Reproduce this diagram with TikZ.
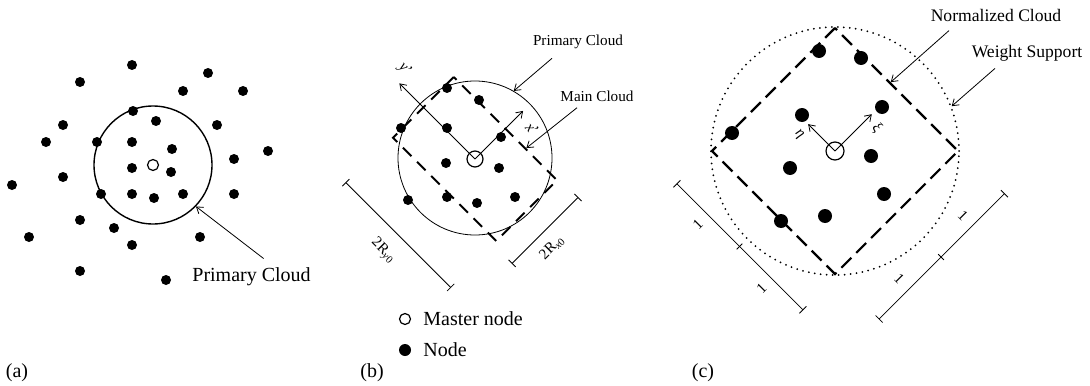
\documentclass[tikz,border=0pt]{standalone}
\usepackage{fontspec}
\setmainfont{Liberation Serif}
\usetikzlibrary{arrows.meta, positioning, calc}

\begin{document}
\begin{tikzpicture}[
    x=0.5pt, y=0.5pt,
    dot/.style={circle, fill, inner sep=0pt, minimum size=5pt},
    bigdot/.style={dot, minimum size=7pt},
    master/.style={circle, draw, line width=0.6pt, inner sep=0pt, minimum size=5.5pt},
    cloud/.style={circle, draw, inner sep=0pt},
    cloudbox/.style={draw, line width=1pt, dash pattern=on 6pt off 4pt, inner sep=0pt},
    arr/.style={-{Straight Barb[length=3pt, width=4pt]}, thin},
    dim/.style={{Bar[width=5pt]}-{Bar[width=5pt]}, thin},
    lblb/.style={inner sep=1pt, font=\fontsize{7.6}{9}\selectfont},
    lblc/.style={inner sep=1pt, font=\fontsize{8.8}{10}\selectfont},
    small/.style={inner sep=0.5pt, font=\fontsize{7.5}{9}\selectfont}
  ]
    \useasboundingbox (0,0) rectangle (1090,-385);

    % (a) scattered nodes and the primary cloud
    \foreach \x/\y [count=\i] in {132/65, 80/82, 208/73, 183/91, 243/91, 133/111,
        156/121, 63/125, 217/125, 46/142, 97/142, 132/142, 172/149, 268/151,
        234/159, 132/168, 171/172, 63/177, 12/185, 101/194, 132/194, 154/198,
        183/194, 234/194, 80/220, 114/228, 29/237, 200/237, 132/245, 80/271, 166/280}
      \node[dot] (a\i) at (\x,-\y) {};
    \node[master] (mA) at (153,-165) {};
    \node[cloud, line width=0.7pt, minimum size=59pt] (pcA) at (153,-165) {};
    \node[anchor=west, inner sep=0pt] (ptxtA) at (192,-277) {Primary Cloud};
    \draw[arr] ([xshift=6pt, yshift=4.5pt]ptxtA.north) -- (pcA.-44);
    \node (labA) at (17,-373) {(a)};

    % (b) main cloud in the rotated frame
    \node[cloud, minimum size=77pt] (pcB) at (475,-158) {};
    \node[cloudbox, minimum width=43pt, minimum height=73pt, rotate=45] (mainB) at (475,-159) {};
    \foreach \x/\y [count=\i] in {447/88, 479/100, 401/128, 447/128, 501/137,
        446/163, 499/168, 408/200, 447/197, 477/203, 515/197}
      \node[dot] (b\i) at (\x,-\y) {};
    \node[master, minimum size=8pt] (mB) at (475,-159) {};
    \begin{scope}[shift={(475,-159)}, rotate=45]
      \coordinate (xB) at (68,0);
      \coordinate (yB) at (0,107);
      \draw[arr] (mB.center) -- (xB);
      \draw[arr] (mB.center) -- (yB);
      \node[small, rotate=-45] (xlB) at (62,-19) {\textit{x}'};
      \node[small, rotate=-45] (ylB) at (14,113) {\textit{y}'};
      \draw[dim] (-108,-74) -- (-108,75);
      \node[small, rotate=-45] (ryB) at (-130,0) {2R\textsubscript{\textit{y}0}};
      \draw[dim] (-48,-100) -- (46,-100);
      \node[small, rotate=45] (rxB) at (-8,-117) {2R\textsubscript{\textit{x}0}};
    \end{scope}
    \node[lblb] (ptxtB) at (578,-42) {Primary Cloud};
    \draw[arr] ([xshift=-13pt, yshift=-3.5pt]ptxtB.south) -- (pcB.60);
    \node[lblb] (mtxtB) at (597,-96) {Main Cloud};
    \draw[arr] ([xshift=-10pt, yshift=-2pt]mtxtB.south) -- (mainB.-33);
    % legend
    \node[master] (lm) at (405,-319) {};
    \node[anchor=west, inner sep=0pt] (lmtxt) at (423,-319) {Master node};
    \node[dot, minimum size=6pt] (ln) at (405,-350) {};
    \node[anchor=west, inner sep=0pt] (lntxt) at (423,-350) {Node};
    \node (labB) at (372,-373) {(b)};

    % (c) normalized cloud and weight support
    \node[cloud, line width=1pt, line cap=round, dash pattern=on 0pt off 3pt,
          minimum size=124pt] (wsC) at (835,-151) {};
    \node[cloudbox, line width=1.1pt, dash pattern=on 7pt off 3.5pt,
          minimum size=87pt, rotate=45] (normC) at (835,-151) {};
    \foreach \x/\y [count=\i] in {819/51, 861/58, 882/107, 802/115, 732/133,
        871/156, 790/168, 884/194, 825/216, 781/221}
      \node[bigdot] (c\i) at (\x,-\y) {};
    \node[master, minimum size=9pt] (mC) at (835,-151) {};
    \begin{scope}[shift={(835,-151)}, rotate=45]
      \coordinate (xiC) at (52,0);
      \coordinate (etaC) at (0,38);
      \draw[arr] (mC.center) -- (xiC);
      \draw[arr] (mC.center) -- (etaC);
      \node[small, rotate=-45] (xilC) at (46,-13) {\textit{ξ}};
      \node[small, rotate=-45] (etalC) at (-14,37) {\textit{η}};
      \draw[dim] (-135,-90) -- (-135,89);
      \draw[thin] (-139,0) -- (-131,0);
      \node[small, rotate=45] (l1C) at (-149,45) {1};
      \node[small, rotate=45] (l2C) at (-149,-45) {1};
      \draw[dim] (-88,-150) -- (90,-150);
      \draw[thin] (0,-154) -- (0,-146);
      \node[small, rotate=-45] (l3C) at (45,-136) {1};
      \node[small, rotate=-45] (l4C) at (-45,-136) {1};
    \end{scope}
    \node[lblc] (ntxtC) at (996,-15) {Normalized Cloud};
    \draw[arr] ([xshift=-23.5pt, yshift=-3.5pt]ntxtC.south) -- (normC.6);
    \node[lblc] (wtxtC) at (1027,-53) {Weight Support};
    \draw[arr] ([xshift=-16pt, yshift=-2.5pt]wtxtC.south) -- (wsC.21);
    \node (labC) at (703,-373) {(c)};
\end{tikzpicture}
\end{document}
